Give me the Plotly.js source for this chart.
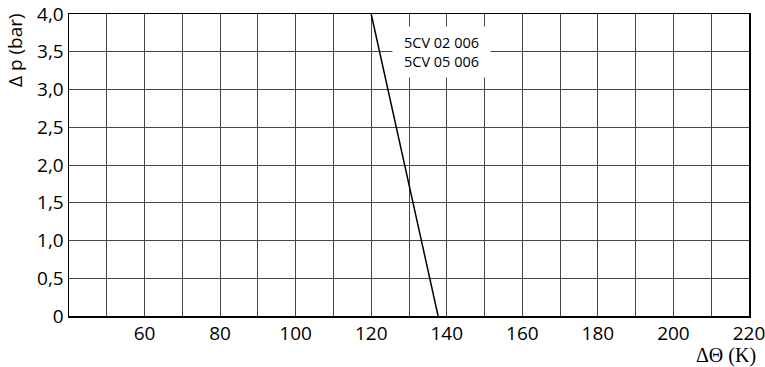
<!DOCTYPE html>
<html>
<head>
<meta charset="utf-8">
<script src="https://cdn.plot.ly/plotly-3.0.1.min.js"></script>
<style>html,body{margin:0;padding:0;background:#fff;}#chart{width:765px;height:367px;}</style>
</head>
<body>
<div id="chart"></div>
<script>
// Data
const curveX = [120, 137.7];
const curveY = [4.0, 0];
const curveLabel = "5CV 02 006<br>5CV 05 006";

const xTickVals = [40, 50, 60, 70, 80, 90, 100, 110, 120, 130, 140, 150, 160, 170, 180, 190, 200, 210, 220];
const xTickText = ["", "", "60", "", "80", "", "100", "", "120", "", "140", "", "160", "", "180", "", "200", "", "220"];
const yTickVals = [0, 0.5, 1.0, 1.5, 2.0, 2.5, 3.0, 3.5, 4.0];
const yTickText = ["0", "0,5", "1,0", "1,5", "2,0", "2,5", "3,0", "3,5", "4,0"];

const tickFont = {family: "Open Sans, Noto Sans, sans-serif", size: 19, color: "#000"};

const data = [{
  x: curveX, y: curveY, type: "scatter", mode: "lines",
  line: {color: "#000", width: 1.5}, hoverinfo: "skip", showlegend: false
}];

const layout = {
  width: 765, height: 367,
  margin: {l: 69, r: 16, t: 14, b: 51},
  paper_bgcolor: "#fff", plot_bgcolor: "#fff",
  showlegend: false,
  xaxis: {
    range: [40, 220], tickmode: "array", tickvals: xTickVals, ticktext: xTickText,
    showgrid: true, gridcolor: "#444", gridwidth: 1,
    zeroline: false, showline: true, linecolor: "#000", linewidth: 1.5, mirror: true,
    ticks: "", tickfont: tickFont, ticklabelstandoff: 0, ticklabeloverflow: "allow"
  },
  yaxis: {
    range: [0, 4], tickmode: "array", tickvals: yTickVals, ticktext: yTickText,
    showgrid: true, gridcolor: "#444", gridwidth: 1,
    zeroline: false, showline: true, linecolor: "#000", linewidth: 1.5, mirror: true,
    ticks: "", tickfont: tickFont, ticklabeloverflow: "allow"
  },
  annotations: [
    {x: 138.6, y: 3.5, xref: "x", yref: "y", text: curveLabel, showarrow: false,
     bgcolor: "#fff", borderpad: 5, width: 87, height: 40,
     font: {family: "Open Sans, Noto Sans, sans-serif", size: 14.5, color: "#000"}},
    {text: "Δ p (bar)", showarrow: false, xref: "paper", yref: "paper",
     textangle: -90, font: {family: "Open Sans, Noto Sans, sans-serif", size: 19, color: "#000"}},
    {text: "ΔΘ (K)", showarrow: false, xref: "paper", yref: "paper",
     font: {family: "Liberation Serif, Times New Roman, serif", size: 20, color: "#000"}}
  ]
};
// pixel positions of the axis-title annotations converted into paper coords
layout.annotations[1].x = (15 - 69) / 680; layout.annotations[1].y = 1 - (50 - 14) / 302;
layout.annotations[2].x = (726 - 69) / 680; layout.annotations[2].y = 1 - (355 - 14) / 302;
layout.annotations[1].xanchor = "center"; layout.annotations[1].yanchor = "middle";
layout.annotations[2].xanchor = "center"; layout.annotations[2].yanchor = "middle";

Plotly.newPlot("chart", data, layout, {staticPlot: true, displayModeBar: false});
</script>
</body>
</html>
